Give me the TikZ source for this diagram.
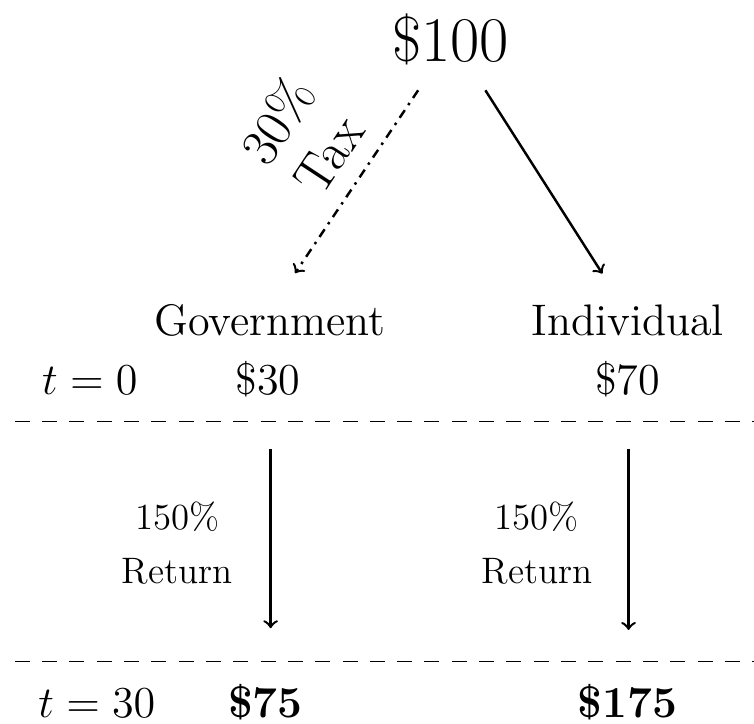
\documentclass[tikz,border=0pt]{standalone}
\usepackage{amsmath,amssymb}
\usepackage{tikz}
\usetikzlibrary{positioning,calc}

\begin{document}
\begin{tikzpicture}[
  lbl/.style={font=\Large, anchor=base},
  ret/.style={font=\large, anchor=base},
  flow/.style={->, thick},
  taxflow/.style={->, thick, dash dot},
  period/.style={line width=0.45pt, dash pattern=on 4.9pt off 4pt}]
  \clip (0,0) rectangle (8.637,-8.293);
  % money at the top
  \node[font=\huge, anchor=base] (total) at (5.16,-0.71) {\$100};
  \node[lbl] (gov) at (3.09,-3.84) {Government};
  \node[lbl] (ind) at (7.19,-3.84) {Individual};
  \node[font=\LARGE, rotate=56.6, align=center] (tax) at (3.46,-1.57) {30\%\\[-2pt]Tax};
  \draw[taxflow] ([xshift=-0.37cm, yshift=-0.16cm]total.south) -- ([xshift=0.29cm, yshift=0.23cm]gov.north);
  \draw[flow] ([xshift=0.40cm, yshift=-0.16cm]total.south) -- ([xshift=-0.29cm, yshift=0.23cm]ind.north);
  % t = 0
  \node[lbl] (t0) at (1.03,-4.52) {$t=0$};
  \node[lbl] (gov0) at (3.07,-4.52) {\$30};
  \node[lbl] (ind0) at (7.19,-4.52) {\$70};
  \draw[period] (0.17,-4.83) -- (8.8,-4.83);
  % growth
  \node[ret] (govret1) at (2.03,-6.07) {150\%};
  \node[ret] (govret2) at (2.03,-6.68) {Return};
  \node[ret] (indret1) at (6.15,-6.07) {150\%};
  \node[ret] (indret2) at (6.15,-6.68) {Return};
  % t = 30
  \draw[period] (0.17,-7.58) -- (8.8,-7.58);
  \node[lbl] (t30) at (1.11,-8.22) {$t=30$};
  \node[lbl] (gov30) at (3.04,-8.22) {\textbf{\$75}};
  \node[lbl] (ind30) at (7.19,-8.22) {\textbf{\$175}};
  \draw[flow, shorten <=0.47cm, shorten >=0.52cm] ([xshift=0.03cm]gov0.south) -- ([xshift=0.03cm]gov0.south |- gov30.north);
  \draw[flow, shorten <=0.47cm, shorten >=0.50cm] ([xshift=0.01cm]ind0.south) -- ([xshift=0.01cm]ind0.south |- ind30.north);
\end{tikzpicture}
\end{document}
